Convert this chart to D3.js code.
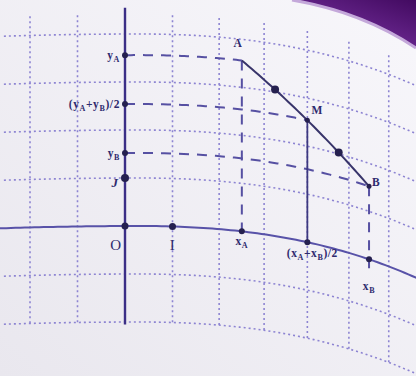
<!DOCTYPE html>
<html><head><meta charset="utf-8">
<script src="https://cdn.jsdelivr.net/npm/d3@7"></script>
<style>html,body{margin:0;padding:0;background:#f3f2f7;}svg{display:block;}</style>
</head><body>
<svg id="c" width="416" height="376"></svg>
<script>
// ---- data (flat coordinates, unit = one grid square) ----
const gridU = [-2, -1, 1, 2, 3, 4, 5, 6];
const gridV = [4, 3, 2, 1, -1, -2];
const xA = 2.5, xB = 5.5;
const yA = 3.56, yB = 1.52;
const xM = (xA + xB) / 2, yM = (yA + yB) / 2;
const basePoints = [{name: "O", u: 0, v: 0}, {name: "I", u: 1, v: 0}, {name: "J", u: 0, v: 1}];
const quarterT = [0.25, 0.75];

const svg = d3.select("#c");
const W = 416, H = 376;

const defs = svg.append("defs");
const bg = defs.append("linearGradient").attr("id", "bg").attr("x1", 0).attr("y1", 1).attr("x2", 1).attr("y2", 0);
bg.append("stop").attr("offset", 0).attr("stop-color", "#e9e7ee");
bg.append("stop").attr("offset", 1).attr("stop-color", "#f8f7fb");
svg.append("rect").attr("width", W).attr("height", H).attr("fill", "url(#bg)");
const pg = defs.append("linearGradient").attr("id", "pg").attr("x1", 0.1).attr("y1", 1).attr("x2", 1).attr("y2", 0);
pg.append("stop").attr("offset", 0).attr("stop-color", "#8a55aa");
pg.append("stop").attr("offset", 0.45).attr("stop-color", "#65248a");
pg.append("stop").attr("offset", 1).attr("stop-color", "#420a60");

// scales + page-curl warp
const xs = d3.scaleLinear().domain([0, 1]).range([125, 172.5]);
const ys = d3.scaleLinear().domain([0, 1]).range([226, 178]);
function P(u, v) {
  const t = Math.max(0, u - 1);
  const x = xs(u) - 0.85 * t * t;
  const d = x - 140;
  const dy = d > 0 ? 0.000422 * d * d + 9.3e-7 * d * d * d : 0.00012 * d * d;
  return [x, ys(v) + dy];
}
const line = d3.line();
function seg(u0, v0, u1, v1, n = 40) {
  return line(d3.range(n + 1).map(i => P(u0 + (u1 - u0) * i / n, v0 + (v1 - v0) * i / n)));
}

const gridC = "#8d84d2";
const g = svg.append("g");
gridU.forEach(u => g.append("path").attr("d", seg(u, 4.4, u, -2.05)).attr("fill", "none")
  .attr("stroke", gridC).attr("stroke-width", 1.6).attr("stroke-dasharray", "2,3"));
gridV.forEach(v => g.append("path").attr("d", seg(-2.55, v, 7.2, v, 80)).attr("fill", "none")
  .attr("stroke", gridC).attr("stroke-width", 1.6).attr("stroke-dasharray", "2,3"));

// axes
svg.append("path").attr("d", seg(-2.7, 0, 7.2, 0, 100)).attr("fill", "none").attr("stroke", "#5852a8").attr("stroke-width", 2);
svg.append("path").attr("d", seg(0, 4.55, 0, -2.05)).attr("fill", "none").attr("stroke", "#3b2e86").attr("stroke-width", 2.4);

// dashed projections
const dashC = "#5650a2";
const dash = [
  [0, yA, xA, yA], [0, yM, xM, yM], [0, yB, xB, yB],
  [xA, yA, xA, 0], [xB, yB, xB, -0.35]
];
dash.forEach(d => svg.append("path").attr("d", seg(...d)).attr("fill", "none")
  .attr("stroke", dashC).attr("stroke-width", 2).attr("stroke-dasharray", "10,8"));
svg.append("path").attr("d", seg(xM, yM, xM, 0)).attr("fill", "none").attr("stroke", "#3d3880").attr("stroke-width", 1.8);

// segment AB
svg.append("path").attr("d", seg(xA, yA, xB, yB)).attr("fill", "none").attr("stroke", "#38346a").attr("stroke-width", 2);

// dots
const dotC = "#25204f";
function dot(u, v, r) { const p = P(u, v); svg.append("circle").attr("cx", p[0]).attr("cy", p[1]).attr("r", r).attr("fill", dotC); }
[yA, yM, yB].forEach(v => dot(0, v, 3));
[xA, xM, xB].forEach(u => dot(u, 0, 3));
basePoints.forEach(b => dot(b.u, b.v, b.name === "J" ? 4 : 3.5));
quarterT.forEach(t => dot(xA + (xB - xA) * t, yA + (yB - yA) * t, 4));
dot(xM, yM, 2.5);
dot(xB, yB, 2.5);

// labels
const txtC = "#2e2a6e";
function label(parts, x, y, anchor, size = 11.5) {
  const t = svg.append("text").attr("x", x).attr("y", y).attr("text-anchor", anchor)
    .attr("font-family", "Liberation Serif, DejaVu Serif, serif").attr("font-weight", "bold")
    .attr("font-size", size).attr("fill", txtC).attr("letter-spacing", 0.6);
  let shift = 0;
  parts.forEach(([s, sub]) => {
    const ts = t.append("tspan").text(s);
    const target = sub ? 3 : 0;
    if (sub) ts.attr("font-size", size * 0.7);
    ts.attr("dy", target - shift); shift = target;
  });
  return t;
}
function at(u, v, dx, dy) { const p = P(u, v); return [p[0] + dx, p[1] + dy]; }
let p;
p = at(0, yA, -5, 4); label([["y"], ["A", 1]], p[0], p[1], "end");
p = at(0, yM, -5, 4); label([["(y"], ["A", 1], ["+y"], ["B", 1], [")/2"]], p[0], p[1], "end");
p = at(0, yB, -5, 4); label([["y"], ["B", 1]], p[0], p[1], "end");
p = at(0, 1, -10, 9); label([["J"]], p[0], p[1], "middle", 13).attr("font-style", "italic");
p = at(0, 0, -9, 24); label([["O"]], p[0], p[1], "middle", 15).attr("font-weight", "normal");
p = at(1, 0, 0, 24); label([["I"]], p[0], p[1], "middle", 15).attr("font-weight", "normal");
p = at(xA, 0, 0, 14); label([["x"], ["A", 1]], p[0], p[1], "middle");
p = at(xM, 0, 5, 15); label([["(x"], ["A", 1], ["+x"], ["B", 1], [")/2"]], p[0], p[1], "middle");
p = at(xB, -0.35, 0, 14); label([["x"], ["B", 1]], p[0], p[1], "middle");
p = at(xA, yA, -4, -13); label([["A"]], p[0], p[1], "middle");
p = at(xB, yB, 7, 0); label([["B"]], p[0], p[1], "middle");
p = at(xM, yM, 10, -6); label([["M"]], p[0], p[1], "middle");

// page edge shadow (top-right)
svg.append("path").attr("d", "M292,0 Q362,12 416,48 L416,0 Z").attr("fill", "url(#pg)");
svg.append("path").attr("d", "M292,0 Q362,12 416,48").attr("fill", "none").attr("stroke", "#c4a8da").attr("stroke-width", 3);
</script>
</body></html>
